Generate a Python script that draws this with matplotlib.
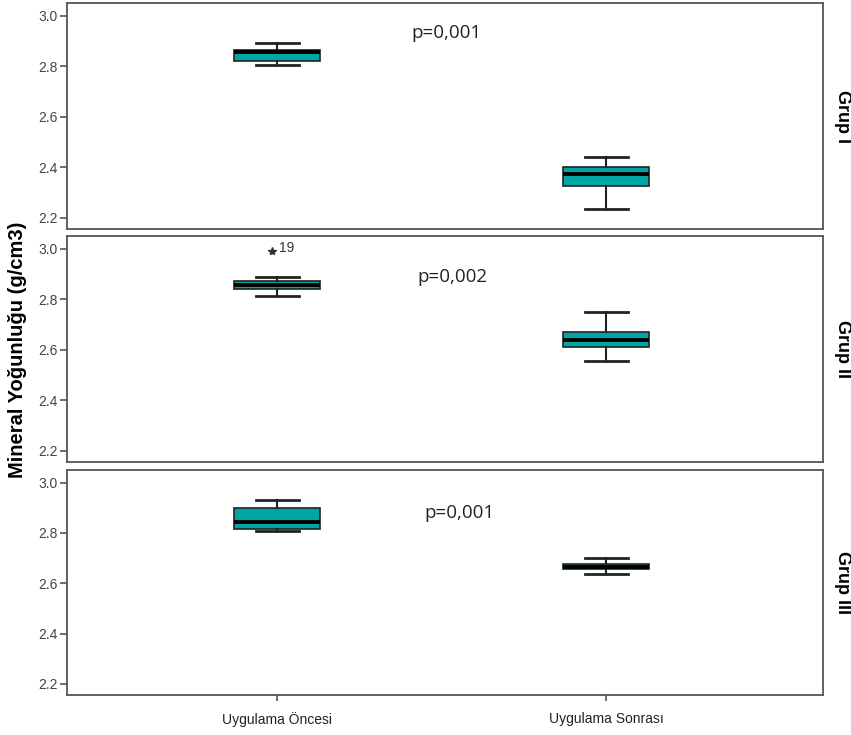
import matplotlib
matplotlib.use('Agg')
import matplotlib.pyplot as plt

plt.rcParams['font.family'] = ['Liberation Sans', 'DejaVu Sans']

# Data (g/cm3)
groups = ['Grup I', 'Grup II', 'Grup III']
phases = ['Uygulama Öncesi', 'Uygulama Sonrası']
p_values = ['p=0,001', 'p=0,002', 'p=0,001']

# per group: [Öncesi, Sonrası]
whislo = [[2.805, 2.234], [2.814, 2.556], [2.807, 2.636]]
q1 = [[2.822, 2.327], [2.840, 2.612], [2.814, 2.655]]
med = [[2.857, 2.374], [2.857, 2.640], [2.843, 2.665]]
q3 = [[2.865, 2.400], [2.873, 2.671], [2.900, 2.678]]
whishi = [[2.892, 2.439], [2.886, 2.748], [2.930, 2.702]]
outliers = [[[], []], [[2.992], []], [[], []]]
outlier_ids = [[[], []], [['19'], []], [[], []]]

box_color = '#00a5a5'
spine_color = '#555555'

fig = plt.figure(figsize=(8.51, 7.35), dpi=100)
left, right = 67 / 851, 823 / 851
rows = [(3, 229), (236, 462), (470, 695)]

for g, (top, bot) in enumerate(rows):
    ax = fig.add_axes([left, 1 - bot / 735, right - left, (bot - top) / 735])
    stats = []
    for k in range(2):
        stats.append(dict(whislo=whislo[g][k], q1=q1[g][k], med=med[g][k],
                          q3=q3[g][k], whishi=whishi[g][k], fliers=[]))
    ax.bxp(stats, positions=[1, 2], widths=0.262, patch_artist=True,
           showfliers=False,
           boxprops=dict(facecolor=box_color, edgecolor='#222222', linewidth=1.2),
           medianprops=dict(color='black', linewidth=2.8),
           whiskerprops=dict(color='#222222', linewidth=1.5),
           capprops=dict(color='#222222', linewidth=2),
           capwidths=0.131)
    for k in range(2):
        for v, lab in zip(outliers[g][k], outlier_ids[g][k]):
            ax.plot(k + 0.985, v, marker='*', color='#333333', markersize=6, ls='none')
            ax.text(k + 1.005, v + 0.012, lab, fontsize=10, color='#333333',
                    va='center', ha='left')

    ax.set_xlim(0.36, 2.66)
    ax.set_ylim(2.156, 3.05)
    ax.set_yticks([2.2, 2.4, 2.6, 2.8, 3.0])
    ax.set_yticklabels(['2.2', '2.4', '2.6', '2.8', '3.0'])
    ax.tick_params(axis='y', labelsize=10, labelcolor='#444444', color=spine_color,
                   length=5, width=1.2, pad=2)
    for s in ax.spines.values():
        s.set_color(spine_color)
        s.set_linewidth(1.3)

    if g == 2:
        ax.set_xticks([1, 2])
        ax.set_xticklabels(phases, fontsize=10, color='#222222')
        ax.tick_params(axis='x', length=4, color=spine_color, width=1.2, pad=8)
    else:
        ax.set_xticks([])

    p_x = [446 / 851, 452 / 851, 459 / 851][g]
    p_y = [33, 277, 513][g]
    fig.text(p_x, 1 - p_y / 735, p_values[g], fontsize=13.5, ha='center',
             va='center', color='#222222', family=['Open Sans', 'DejaVu Sans'])

    fig.text(843 / 851, 1 - ((top + bot) / 2) / 735, groups[g], rotation=-90,
             fontsize=13, fontweight='bold', ha='center', va='center')

fig.text(18 / 851, 1 - 350 / 735, 'Mineral Yoğunluğu (g/cm3)', rotation=90,
         fontsize=14.5, fontweight='bold', ha='center', va='center')

fig.savefig('out.png', dpi=100)
